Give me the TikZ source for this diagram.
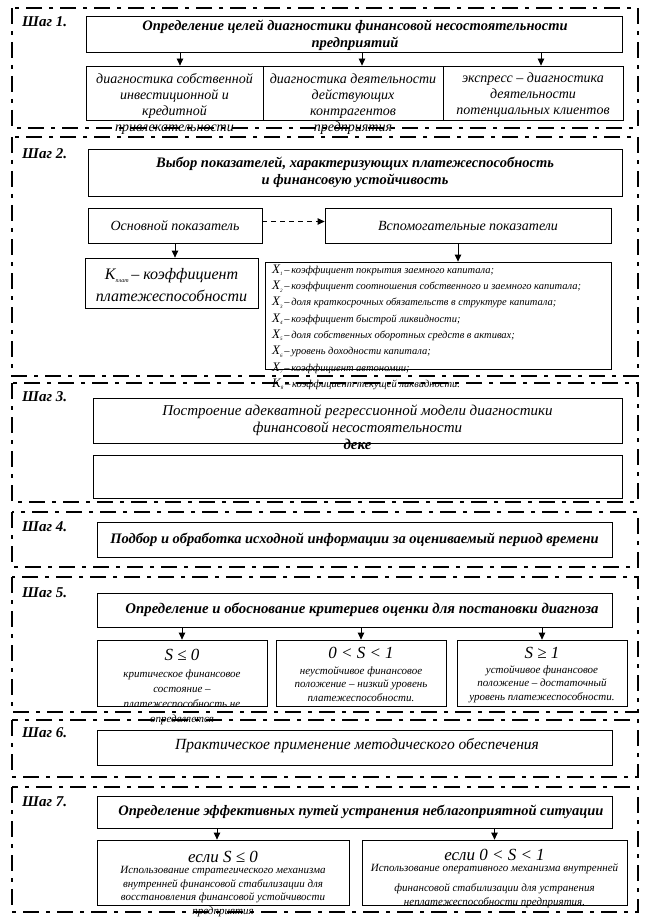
\documentclass[tikz,border=0pt]{standalone}
\usepackage{fontspec}
\setmainfont{Liberation Serif}
\usetikzlibrary{arrows.meta}
\newcommand\xitem[2]{{\fontsize{13}{13}\selectfont X}\raisebox{-2.5pt}{\fontsize{5}{5}\selectfont #1}\,–\,#2}
\begin{document}
\begin{tikzpicture}[x=1pt,y=-1pt,
  frm/.style={line width=2.4pt, dash pattern=on 16pt off 7pt on 4pt off 7pt},
  bx/.style={draw, line width=0.8pt, inner sep=0pt},
  arr/.style={line width=0.8pt, -{Triangle[length=7pt,width=6.5pt]}},
  darr/.style={line width=0.9pt, dash pattern=on 5pt off 4pt, -{Triangle[length=7pt,width=6.5pt]}},
  stp/.style={font=\fontsize{15}{18}\selectfont\bfseries\itshape, anchor=west, inner sep=0pt},
  ttl/.style={font=\fontsize{14.5}{17}\selectfont\bfseries\itshape, align=center, inner sep=0pt},
  ttr/.style={font=\fontsize{15}{17}\selectfont\itshape, align=center, inner sep=0pt},
  t14/.style={font=\fontsize{14}{16}\selectfont\itshape, align=center, inner sep=0pt},
  big/.style={font=\fontsize{17}{20}\selectfont\itshape, inner sep=0pt},
  sml/.style={font=\fontsize{11}{15}\selectfont\itshape, align=center, inner sep=0pt},
  smm/.style={font=\fontsize{11}{13.5}\selectfont\itshape, align=center, inner sep=0pt}]
\useasboundingbox (0,0) rectangle (649,917);
% frames
\draw[frm] (12,8) rectangle (638,128);
\draw[frm] (12,137) rectangle (638,376);
\draw[frm] (12,383) rectangle (638,502);
\draw[frm] (12,512) rectangle (638,567);
\draw[frm] (12,577) rectangle (638,712);
\draw[frm] (12,720) rectangle (638,777);
\draw[frm] (12,787) rectangle (638,912);
% step labels
\node[stp] (s1) at (22,22) {Шаг 1.};
\node[stp] (s2) at (22,154) {Шаг 2.};
\node[stp] (s3) at (22,397) {Шаг 3.};
\node[stp] (s4) at (22,527) {Шаг 4.};
\node[stp] (s5) at (22,593) {Шаг 5.};
\node[stp] (s6) at (22,733) {Шаг 6.};
\node[stp] (s7) at (22,802) {Шаг 7.};
% ---- step 1
\node[bx, minimum width=536, minimum height=36] (B1t) at (354,34) {};
\node[ttl] (T1t) at (355,35) {Определение целей диагностики финансовой несостоятельности\\предприятий};
\node[bx, minimum width=177, minimum height=54] (B1a) at (174.5,93) {};
\node[bx, minimum width=180, minimum height=54] (B1b) at (353,93) {};
\node[bx, minimum width=180, minimum height=54] (B1c) at (533,93) {};
\node[t14] (T1a) at (174.5,104) {диагностика собственной\\инвестиционной и\\кредитной\\привлекательности};
\node[t14] (T1b) at (353,104) {диагностика деятельности\\действующих\\контрагентов\\предприятия};
\node[t14] (T1c) at (533,95) {экспресс – диагностика\\деятельности\\потенциальных клиентов};
\coordinate (a1) at ([xshift=5.5pt]B1a.north);
\coordinate (a2) at ([xshift=9pt]B1b.north);
\coordinate (a3) at ([xshift=8pt]B1c.north);
\draw[arr] (B1t.south -| a1) -- (a1);
\draw[arr] (B1t.south -| a2) -- (a2);
\draw[arr] (B1t.south -| a3) -- (a3);
% ---- step 2
\node[bx, minimum width=534, minimum height=47] (B2t) at (355,172.5) {};
\node[ttl] (T2t) at (355,172.5) {Выбор показателей, характеризующих платежеспособность\\и финансовую устойчивость};
\node[bx, minimum width=174, minimum height=35, font=\fontsize{14}{16}\selectfont\itshape] (B2a) at (175,225.5) {Основной показатель};
\node[bx, minimum width=286, minimum height=35, font=\fontsize{14}{16}\selectfont\itshape] (B2b) at (468,225.5) {Вспомогательные показатели};
\draw[darr] ([yshift=4pt]B2a.east) -- ([yshift=4pt]B2b.west);
\node[bx, minimum width=173, minimum height=50] (K) at (171.5,283) {};
\node[font=\fontsize{16}{22}\selectfont\itshape, align=center, inner sep=0pt] (TK) at (171.5,285) {K\raisebox{-3pt}{\fontsize{6}{6}\selectfont плат}\,– коэффициент\\платежеспособности};
\draw[arr] (B2a.south) -- (B2a.south |- K.north);
\node[bx, minimum width=346, minimum height=107] (X) at (438,315.5) {};
\coordinate (c2) at ([xshift=-10pt]B2b.south);
\draw[arr] (c2) -- (c2 |- X.north);
\node[font=\fontsize{10.5}{16.3}\selectfont\itshape, align=left, inner sep=0pt, anchor=north west] (TX) at (272,264.5) {%
\xitem{1}{коэффициент покрытия заемного капитала;}\\
\xitem{2}{коэффициент соотношения собственного и заемного капитала;}\\
\xitem{3}{доля краткосрочных обязательств в структуре капитала;}\\
\xitem{4}{коэффициент быстрой ликвидности;}\\
\xitem{5}{доля собственных оборотных средств в активах;}\\
\xitem{6}{уровень доходности капитала;}\\
\xitem{7}{коэффициент автономии;}\\
{\fontsize{13}{13}\selectfont K}\raisebox{-2.5pt}{\fontsize{5}{5}\selectfont 8}\,–\,коэффициент текущей ликвидности.};
% ---- step 3
\node[bx, minimum width=529, minimum height=45] (B3t) at (357.5,420.5) {};
\node[ttr] (T3t) at (357.5,427) {Построение адекватной регрессионной модели диагностики\\финансовой несостоятельности\\{\bfseries деке}};
\node[bx, minimum width=529, minimum height=43] (B3b) at (357.5,476.5) {};
% ---- step 4
\node[bx, minimum width=515, minimum height=35] (B4) at (354.5,539.5) {};
\node[ttl] (T4) at (354.5,539.5) {Подбор и обработка исходной информации за оцениваемый период времени};
% ---- step 5
\node[bx, minimum width=515, minimum height=34] (B5t) at (354.5,610) {};
\node[ttl, font=\fontsize{14.8}{17}\selectfont\bfseries\itshape] (T5t) at (362,610) {Определение и обоснование критериев оценки для постановки диагноза};
\node[bx, minimum width=170, minimum height=66] (B5a) at (182,673) {};
\node[bx, minimum width=170, minimum height=66] (B5b) at (361,673) {};
\node[bx, minimum width=170, minimum height=66] (B5c) at (542,673) {};
\draw[arr] (B5t.south -| B5a.north) -- (B5a.north);
\draw[arr] (B5t.south -| B5b.north) -- (B5b.north);
\draw[arr] (B5t.south -| B5c.north) -- (B5c.north);
\node[big] (S5a) at (182,655) {S ≤ 0};
\node[big] (S5b) at (361,653) {0 < S < 1};
\node[big] (S5c) at (542,653) {S ≥ 1};
\node[sml] (T5a) at (182,697) {критическое финансовое\\состояние –\\платежеспособность не\\определяется};
\node[smm] (T5b) at (361,684) {неустойчивое финансовое\\положение – низкий уровень\\платежеспособности.};
\node[smm] (T5c) at (542,684) {устойчивое финансовое\\положение – достаточный\\уровень платежеспособности.};
% ---- step 6
\node[bx, minimum width=515, minimum height=35] (B6) at (354.5,747.5) {};
\node[ttr, font=\fontsize{15.5}{17}\selectfont\itshape] (T6) at (357,746) {Практическое применение методического обеспечения};
% ---- step 7
\node[bx, minimum width=515, minimum height=32] (B7t) at (354.5,812) {};
\node[ttl] (T7t) at (361,812) {Определение эффективных путей устранения неблагоприятной ситуации};
\node[bx, minimum width=252, minimum height=65] (B7a) at (223,872.5) {};
\node[bx, minimum width=265, minimum height=65] (B7b) at (494.5,872.5) {};
\coordinate (d1) at ([xshift=-6pt]B7a.north);
\draw[arr] (B7t.south -| d1) -- (d1);
\draw[arr] (B7t.south -| B7b.north) -- (B7b.north);
\node[big] (S7a) at (223,857) {если S ≤ 0};
\node[big] (S7b) at (494.5,855) {если 0 < S < 1};
\node[font=\fontsize{11}{13.5}\selectfont\itshape, align=center, inner sep=0pt] (T7a) at (223,891.5) {Использование стратегического механизма\\внутренней финансовой стабилизации для\\восстановления финансовой устойчивости\\предприятия};
\node[font=\fontsize{11}{14}\selectfont\itshape, align=center, inner sep=0pt] (T7b) at (494.5,886) {Использование оперативного механизма внутренней\\[6pt]финансовой стабилизации для устранения\\неплатежеспособности предприятия.};
\end{tikzpicture}
\end{document}
